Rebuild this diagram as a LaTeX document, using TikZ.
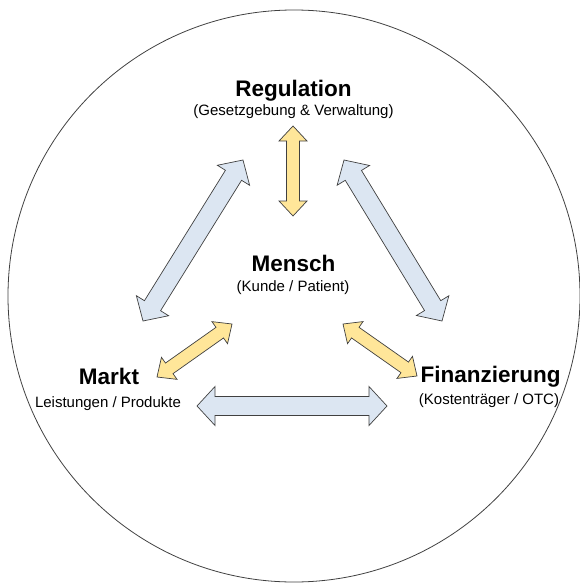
\documentclass[tikz,border=0pt]{standalone}
\usepackage{fontspec}
\setmainfont{Liberation Sans}
\usetikzlibrary{calc}

\definecolor{arrowblue}{RGB}{220,230,242}
\definecolor{arrowyellow}{RGB}{255,230,153}
\definecolor{outline}{RGB}{64,64,64}

% double block arrow: style, start, end, shaft half width, head half width, head length
\newcommand{\fatarrow}[6]{%
  \draw[#1] (#2)
    -- ($(#2)!#6!(#3)!#5!90:(#3)$)
    -- ($(#2)!#6!(#3)!#4!90:(#3)$)
    -- ($(#3)!#6!(#2)!#4!-90:(#2)$)
    -- ($(#3)!#6!(#2)!#5!-90:(#2)$)
    -- (#3)
    -- ($(#3)!#6!(#2)!#5!90:(#2)$)
    -- ($(#3)!#6!(#2)!#4!90:(#2)$)
    -- ($(#2)!#6!(#3)!#4!-90:(#3)$)
    -- ($(#2)!#6!(#3)!#5!-90:(#3)$)
    -- cycle;}

\begin{document}
\begin{tikzpicture}[x=1pt,y=-1pt,
    title/.style={font=\fontsize{22.5}{27}\selectfont\bfseries, anchor=base, inner sep=0pt},
    subtitle/.style={font=\fontsize{15}{18}\selectfont, anchor=base, inner sep=0pt},
    bluearrow/.style={fill=arrowblue, draw=outline, line width=0.7pt},
    yellowarrow/.style={fill=arrowyellow, draw=outline, line width=0.7pt}]

\useasboundingbox (0,0) rectangle (579,583);
\draw[outline, line width=0.8pt] (294,296) circle (286pt);

% labels
\node[title] (reg) at (293.5,96.5) {Regulation};
\node[subtitle] (regsub) at (293.5,115) {(Gesetzgebung \& Verwaltung)};
\node[title] (mensch) at (293.5,271.5) {Mensch};
\node[subtitle] (menschsub) at (293,291) {(Kunde / Patient)};
\node[title] (markt) at (109,384) {Markt};
\node[subtitle] (marktsub) at (108,407) {Leistungen / Produkte};
\node[title] (fin) at (490.5,382.5) {Finanzierung};
\node[subtitle] (finsub) at (489,404) {(Kostenträger / OTC)};

% arrow ends
\coordinate (ym-top) at (293,126);
\coordinate (ym-bot) at (293,216);
\coordinate (bl-top) at (243,160);
\coordinate (bl-bot) at (143,321);
\coordinate (br-top) at (344,160);
\coordinate (br-bot) at (442,321);
\coordinate (bh-left) at (197,406);
\coordinate (bh-right) at (387,406);
\coordinate (yl-out) at (157,377);
\coordinate (yl-in) at (232,324);
\coordinate (yr-in) at (343,324);
\coordinate (yr-out) at (417,376);

\fatarrow{yellowarrow}{ym-top}{ym-bot}{6.5pt}{14pt}{15pt}
\fatarrow{bluearrow}{bl-top}{bl-bot}{9.5pt}{19pt}{18pt}
\fatarrow{bluearrow}{br-top}{br-bot}{9.5pt}{19pt}{18pt}
\fatarrow{bluearrow}{bh-left}{bh-right}{9.5pt}{19.5pt}{18pt}
\fatarrow{yellowarrow}{yl-out}{yl-in}{6.5pt}{13.5pt}{15pt}
\fatarrow{yellowarrow}{yr-in}{yr-out}{6.5pt}{13.5pt}{15pt}
\end{tikzpicture}
\end{document}
